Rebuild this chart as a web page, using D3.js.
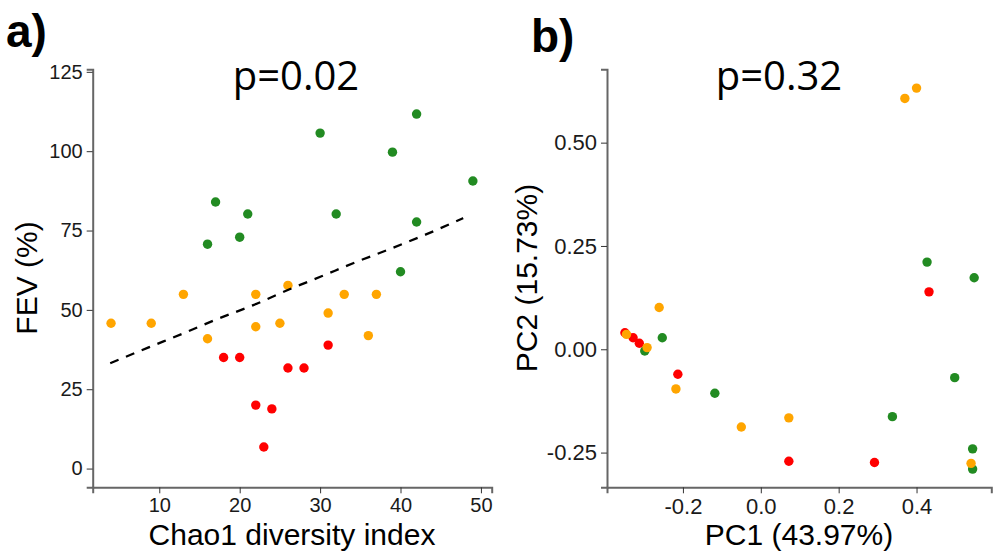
<!DOCTYPE html>
<html>
<head>
<meta charset="utf-8">
<script src="https://cdn.jsdelivr.net/npm/d3@7"></script>
<style>
  body { margin: 0; background: #fff; }
  svg { display: block; }
</style>
</head>
<body>
<div id="chart"></div>
<script>
// ---- panel a data: Chao1 vs FEV ----
var greenChao = [17, 16, 21, 20, 30, 32, 39, 42, 42, 49, 40];
var greenFev  = [84, 70.7, 80.2, 72.9, 105.7, 80.2, 99.7, 111.7, 77.7, 90.6, 62];
var orangeChao = [4, 9, 13, 16, 22, 22, 26, 25, 31, 33, 37, 36];
var orangeFev  = [45.8, 45.8, 54.9, 40.9, 54.9, 44.7, 57.7, 45.8, 49, 54.9, 54.9, 41.9];
var redChao = [18, 20, 26, 28, 31, 22, 24, 23];
var redFev  = [35, 35, 31.7, 31.7, 38.9, 20, 18.8, 6.8];
// smoothed fit (dashed)
var fitChao = [3.9, 8.6, 13, 17.1, 21.7, 26.2, 30.1, 34.3, 38.7, 43.1, 47.8];
var fitFev  = [33.2, 38.1, 42.6, 47, 51.5, 56.5, 60.5, 64.9, 69.2, 73.7, 78.9];

var xTicksA = [10, 20, 30, 40, 50];
var yTicksA = [0, 25, 50, 75, 100, 125];

// ---- panel b data: PCoA ----
var greenPC1 = [-0.298, -0.253, -0.118, 0.338, 0.498, 0.544, 0.544, 0.548, 0.427];
var greenPC2 = [-0.004, 0.028, -0.1065, -0.163, -0.0687, -0.241, -0.29, 0.173, 0.211];
var redPC1 = [-0.349, -0.328, -0.312, -0.213, 0.072, 0.292, 0.432];
var redPC2 = [0.04, 0.028, 0.0145, -0.0605, -0.271, -0.274, 0.139];
var orangePC1 = [0.37, 0.4, -0.261, -0.345, -0.292, -0.218, -0.05, 0.072, 0.54];
var orangePC2 = [0.607, 0.632, 0.101, 0.036, 0.004, -0.096, -0.188, -0.166, -0.276];

var xTicksB = [-0.2, 0, 0.2, 0.4];
var xTickLabelsB = ["-0.2", "0.0", "0.2", "0.4"];
var yTicksB = [-0.25, 0, 0.25, 0.5];
var yTickLabelsB = ["-0.25", "0.00", "0.25", "0.50"];

var colors = { green: "#228B22", orange: "#FFA500", red: "#FF0000" };

var svgWidth = 994, svgHeight = 552;
var svg = d3.select("#chart").append("svg")
  .attr("width", svgWidth)
  .attr("height", svgHeight);

function zip(xs, ys) { return xs.map((x, i) => ({ x: x, y: ys[i] })); }

function styleAxis(g, size) {
  g.select(".domain").attr("stroke", "#666").attr("stroke-width", 2);
  g.selectAll(".tick line").attr("stroke", "#333").attr("stroke-width", 1);
  g.selectAll(".tick text")
    .attr("fill", "#1a1a1a")
    .attr("font-family", "'Liberation Sans', Arial, sans-serif")
    .attr("font-size", size + "px");
}

function drawPoints(g, x, y, pts, color) {
  g.append("g").selectAll("circle")
    .data(pts)
    .enter()
    .append("circle")
    .attr("cx", d => x(d.x))
    .attr("cy", d => y(d.y))
    .attr("r", 4.7)
    .attr("fill", color);
}

// ===== panel a =====
var xA = d3.scaleLinear().domain([1.72, 51.34]).range([92.7, 491.7]);
var yA = d3.scaleLinear().domain([-5.9, 125.8]).range([487.3, 69.3]);

var gA = svg.append("g");
gA.append("g")
  .attr("transform", "translate(0,487.3)")
  .call(d3.axisBottom(xA).tickValues(xTicksA).tickSizeOuter(0).tickSize(6).tickPadding(5))
  .call(g => styleAxis(g, 20));
gA.append("g")
  .attr("transform", "translate(92.7,0)")
  .call(d3.axisLeft(yA).tickValues(yTicksA).tickSizeOuter(0).tickSize(6).tickPadding(4))
  .call(g => styleAxis(g, 20));

drawPoints(gA, xA, yA, zip(greenChao, greenFev), colors.green);
drawPoints(gA, xA, yA, zip(orangeChao, orangeFev), colors.orange);
drawPoints(gA, xA, yA, zip(redChao, redFev), colors.red);

var fitLine = d3.line().x(d => xA(d.x)).y(d => yA(d.y)).curve(d3.curveMonotoneX);
gA.append("path")
  .datum(zip(fitChao, fitFev))
  .attr("d", fitLine)
  .attr("fill", "none")
  .attr("stroke", "#000")
  .attr("stroke-width", 2.3)
  .attr("stroke-dasharray", "9,8");

// ===== panel b =====
var xB = d3.scaleLinear().domain([-0.395, 0.592]).range([607, 991.3]);
var yB = d3.scaleLinear().domain([-0.334, 0.6775]).range([487.3, 69.3]);

var gB = svg.append("g");
gB.append("g")
  .attr("transform", "translate(0,487.3)")
  .call(d3.axisBottom(xB).tickValues(xTicksB).tickFormat((d, i) => xTickLabelsB[i])
    .tickSizeOuter(0).tickSize(6).tickPadding(5))
  .call(g => styleAxis(g, 22));
gB.append("g")
  .attr("transform", "translate(607,0)")
  .call(d3.axisLeft(yB).tickValues(yTicksB).tickFormat((d, i) => yTickLabelsB[i])
    .tickSizeOuter(0).tickSize(6).tickPadding(4))
  .call(g => styleAxis(g, 22));

drawPoints(gB, xB, yB, zip(greenPC1, greenPC2), colors.green);
drawPoints(gB, xB, yB, zip(redPC1, redPC2), colors.red);
drawPoints(gB, xB, yB, zip(orangePC1, orangePC2), colors.orange);

// ===== texts =====
var sans = "'Liberation Sans', Arial, sans-serif";

svg.append("text").attr("x", 6).attr("y", 47)
  .attr("font-family", sans).attr("font-weight", "bold").attr("font-size", "46px")
  .text("a)");
svg.append("text").attr("x", 531).attr("y", 52)
  .attr("font-family", sans).attr("font-weight", "bold").attr("font-size", "46px")
  .text("b)");

svg.append("text").attr("x", 296).attr("y", 90).attr("text-anchor", "middle")
  .attr("font-family", "'Open Sans', sans-serif").attr("font-size", "40px")
  .text("p=0.02");
svg.append("text").attr("x", 779).attr("y", 90).attr("text-anchor", "middle")
  .attr("font-family", "'Open Sans', sans-serif").attr("font-size", "40px")
  .text("p=0.32");

svg.append("text").attr("x", 292).attr("y", 545).attr("text-anchor", "middle")
  .attr("font-family", sans).attr("font-size", "30px")
  .text("Chao1 diversity index");
svg.append("text").attr("x", 799).attr("y", 545).attr("text-anchor", "middle")
  .attr("font-family", sans).attr("font-size", "30px")
  .text("PC1 (43.97%)");

svg.append("text").attr("transform", "translate(37,278) rotate(-90)")
  .attr("text-anchor", "middle")
  .attr("font-family", sans).attr("font-size", "30px")
  .text("FEV (%)");
svg.append("text").attr("transform", "translate(537,278) rotate(-90)")
  .attr("text-anchor", "middle")
  .attr("font-family", sans).attr("font-size", "30px")
  .text("PC2 (15.73%)");
</script>
</body>
</html>
